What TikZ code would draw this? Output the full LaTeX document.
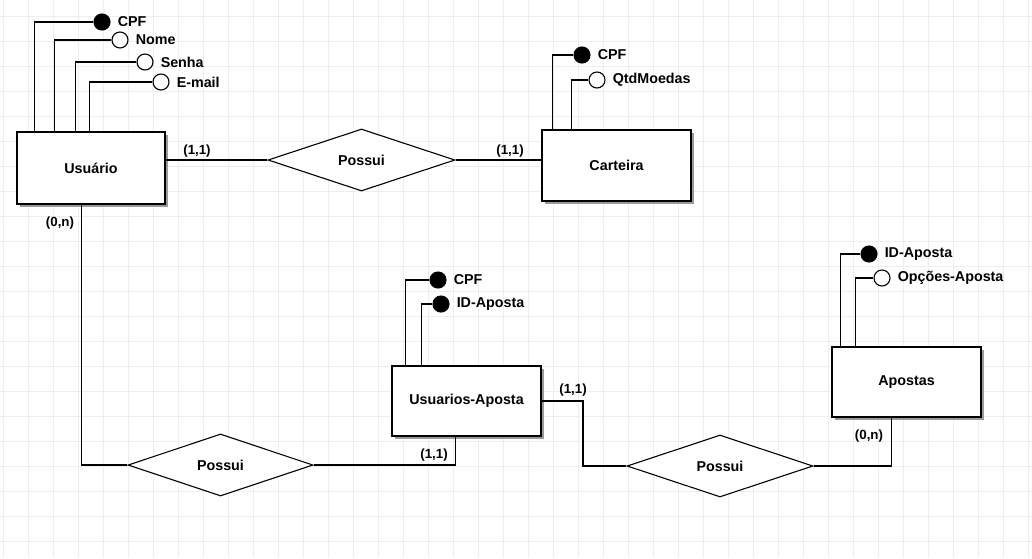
\documentclass[tikz,border=0pt]{standalone}
\usepackage{fontspec}
\setmainfont{Liberation Sans}
\usetikzlibrary{shapes.geometric}
\definecolor{gridc}{HTML}{EAF0F2}
\definecolor{shadowc}{HTML}{9A9A9A}
\tikzset{
  every picture/.style={x=1pt,y=-1pt},
  conn/.style={draw=black,line width=1.1pt},
  entity/.style={draw=black,line width=1.1pt,fill=white,rectangle,inner sep=0pt,
     minimum width=149pt,minimum height=71pt,font=\fontsize{14.3}{16}\selectfont\bfseries},
  eshadow/.style={fill=shadowc,draw=none},
  rel/.style={draw=black,line width=1.1pt,fill=white,diamond,inner sep=0pt,aspect=3,
     minimum width=186pt,minimum height=62pt,font=\fontsize{14.3}{16}\selectfont\bfseries},
  keyattr/.style={circle,draw=black,fill=black,line width=1.1pt,minimum size=16pt,inner sep=0pt},
  attr/.style={circle,draw=black,fill=white,line width=1.1pt,minimum size=16pt,inner sep=0pt},
  attrlabel/.style={anchor=west,inner sep=0pt,xshift=7pt,font=\fontsize{14.3}{16}\selectfont\bfseries},
  card/.style={inner sep=0pt,font=\fontsize{13.3}{15}\selectfont\bfseries},
}
\begin{document}
\begin{tikzpicture}
\useasboundingbox (0,0) rectangle (1032,558);
\fill[white] (0,0) rectangle (1032,558);
% grid
\foreach \gx in {3,28,...,1032} {\draw[gridc,line width=0.7pt] (\gx,0) -- (\gx,558);}
\foreach \gy in {16.5,41.5,...,558} {\draw[gridc,line width=0.7pt] (0,\gy) -- (1032,\gy);}

% shadows
\fill[eshadow] (20,135) rectangle (168,207);
\fill[eshadow] (545,133) rectangle (694,204);
\fill[eshadow] (395,369) rectangle (544,439);
\fill[eshadow] (835,350) rectangle (984,420);

% entities
\node[entity,minimum width=148pt,minimum height=72pt] (usu) at (91,168) {Usuário};
\node[entity] (cart) at (616.5,165.5) {Carteira};
\node[entity,minimum height=70pt] (ua) at (466.5,401) {Usuarios-Aposta};
\node[entity,minimum height=70pt] (ap) at (906.5,382) {Apostas};

% relationships
\node[rel,minimum width=187pt] (d1) at (361.5,160) {Possui};
\node[rel,minimum width=185pt] (d2) at (220.5,465) {Possui};
\node[rel] (d3) at (720,466) {Possui};

% attributes Usuario
\node[keyattr] (ucpf) at (102,22) {};
\node[attrlabel] (ucpfl) at (ucpf.east) {CPF};
\node[attr] (unome) at (120,40) {};
\node[attrlabel] (unomel) at (unome.east) {Nome};
\node[attr] (usenha) at (145,62) {};
\node[attrlabel] (usenhal) at (usenha.east) {Senha};
\node[attr] (umail) at (161,82) {};
\node[attrlabel] (umaill) at (umail.east) {E-mail};

% attributes Carteira
\node[keyattr] (ccpf) at (582,55) {};
\node[attrlabel] (ccpfl) at (ccpf.east) {CPF};
\node[attr] (cqtd) at (597,80) {};
\node[attrlabel] (cqtdl) at (cqtd.east) {QtdMoedas};

% attributes Usuarios-Aposta
\node[keyattr] (uacpf) at (438,280) {};
\node[attrlabel] (uacpfl) at (uacpf.east) {CPF};
\node[keyattr] (uaid) at (441,304) {};
\node[attrlabel] (uaidl) at (uaid.east) {ID-Aposta};

% attributes Apostas
\node[keyattr] (apid) at (869,254) {};
\node[attrlabel] (apidl) at (apid.east) {ID-Aposta};
\node[attr] (apop) at (882,278) {};
\node[attrlabel] (apopl) at (apop.east) {Opções-Aposta};

% attribute connectors
\draw[conn] (ucpf.west) -| ([xshift=18pt]usu.north west);
\draw[conn] (unome.west) -| ([xshift=38pt]usu.north west);
\draw[conn] (usenha.west) -| ([xshift=59pt]usu.north west);
\draw[conn] (umail.west) -| ([xshift=73pt]usu.north west);
\draw[conn] (ccpf.west) -| ([xshift=11pt]cart.north west);
\draw[conn] (cqtd.west) -| ([xshift=30pt]cart.north west);
\draw[conn] (uacpf.west) -| ([xshift=14pt]ua.north west);
\draw[conn] (uaid.west) -| ([xshift=30pt]ua.north west);
\draw[conn] (apid.west) -| ([xshift=9pt]ap.north west);
\draw[conn] (apop.west) -| ([xshift=24pt]ap.north west);

% relationship connectors
\draw[conn] (d1.west) -- (usu.east |- d1.west);
\draw[conn] (d1.east) -- (cart.west |- d1.east);
\draw[conn] ([xshift=65pt]usu.south west) |- (d2.west);
\draw[conn] (d2.east) -| ([xshift=64pt]ua.south west);
\coordinate (c3) at (583,466);
\draw[conn] (ua.east) -| (c3) -- (d3.west);
\draw[conn] (d3.east) -| ([xshift=60pt]ap.south west);

% cardinalities
\node[card] (k1) at (197,151) {(1,1)};
\node[card] (k2) at (510,151) {(1,1)};
\node[card] (k3) at (60,223) {(0,n)};
\node[card] (k4) at (434,455) {(1,1)};
\node[card] (k5) at (573,390) {(1,1)};
\node[card] (k6) at (869,436) {(0,n)};
\end{tikzpicture}
\end{document}
